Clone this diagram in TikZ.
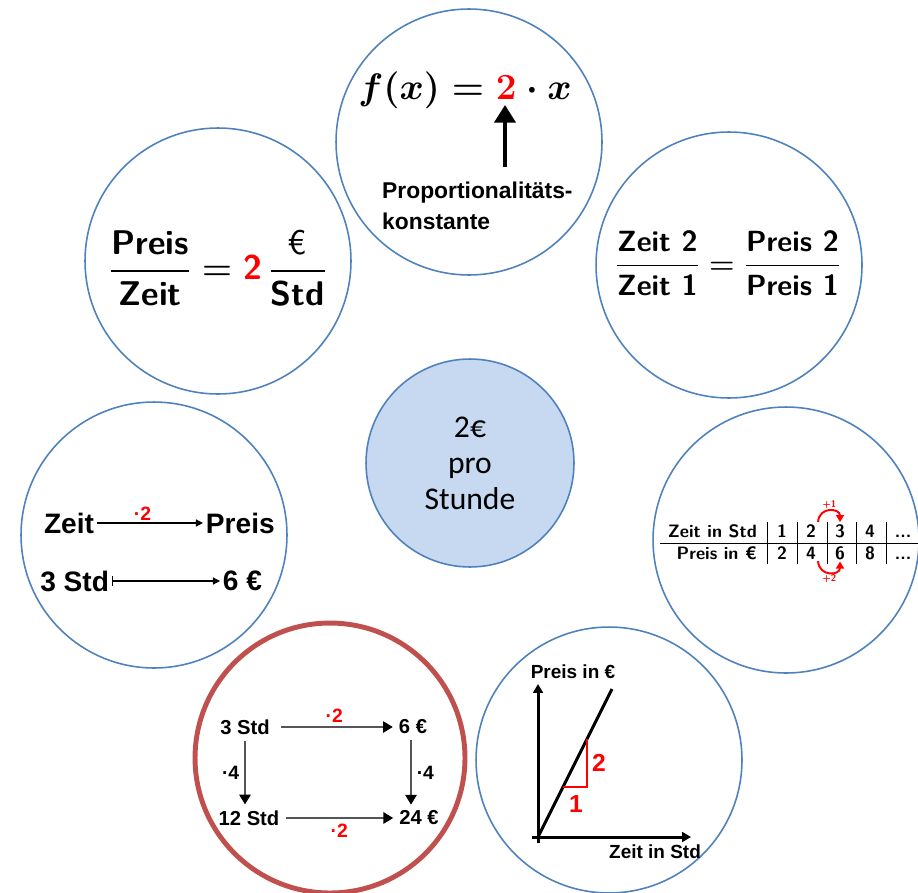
\RequirePackage{fix-cm}
\documentclass[tikz,border=0pt]{standalone}
\usepackage{amsmath}
\usepackage{fontspec}
\newfontfamily\arialfont{Liberation Sans}
\newfontfamily\calibrifont{Carlito}
\definecolor{ringblue}{RGB}{79,129,189}
\definecolor{ringred}{RGB}{192,80,77}
\definecolor{hubblue}{RGB}{198,217,240}
\definecolor{markred}{RGB}{255,0,0}
\definecolor{arrowgray}{RGB}{85,85,85}
\usetikzlibrary{arrows.meta,positioning,calc}
\newcommand{\sfbold}[1]{\textsf{\textbf{#1}}}

\begin{document}
\begin{tikzpicture}[x=0.02cm, y=-0.02cm,
  ring/.style={circle, draw=ringblue, line width=0.9pt, fill=white,
    minimum size=5.32cm, inner sep=0pt},
  hub/.style={circle, draw=ringblue, line width=0.9pt, fill=hubblue,
    minimum size=4.16cm, inner sep=0pt, align=center,
    font=\calibrifont\fontsize{18}{20.5}\selectfont},
  wordbig/.style={font=\arialfont\bfseries\fontsize{16}{19}\selectfont, inner sep=1.5pt},
  wordmid/.style={font=\arialfont\bfseries\fontsize{11.5}{14}\selectfont},
  wordaxis/.style={font=\arialfont\bfseries\fontsize{10.8}{13}\selectfont, inner sep=1pt},
  factor/.style={font=\arialfont\bfseries\fontsize{11}{13}\selectfont, text=markred, inner sep=1pt},
  cell/.style={font=\sffamily\bfseries\fontsize{10.2}{12}\selectfont, inner sep=1pt, anchor=base},
  hoplabel/.style={font=\sffamily\bfseries\fontsize{5.5}{6}\selectfont, text=markred, inner sep=0.5pt},
  mapsto/.style={-{Triangle[length=4pt,width=4pt]}, line width=0.7pt},
  chain/.style={-{Triangle[length=5.5pt,width=6.5pt,black]}, line width=0.6pt, draw=arrowgray},
  lift/.style={-{Triangle[length=10pt,width=12pt]}, line width=2pt},
  axis/.style={-{Triangle[length=5pt,width=5.5pt]}, line width=1.7pt},
  hop/.style={-{Triangle[length=4pt,width=4.5pt]}, line width=1.1pt, draw=markred}
]
\useasboundingbox (0,0) rectangle (918,892);

% the seven circles
\node[ring] (ctop)   at (469,142) {};
\node[ring] (cnw)    at (218,261) {};
\node[ring] (cne)    at (729,265) {};
\node[ring] (cwest)  at (154,535) {};
\node[ring] (ceast)  at (786,540) {};
\node[ring, draw=ringred, line width=2.8pt, minimum size=5.4cm] (csw) at (330,758) {};
\node[ring] (cse)    at (609,760) {};
\node[hub]  (hub)    at (470,463) {2€\\pro\\Stunde};

% top: function term
\node[font=\fontsize{21}{25}\selectfont\boldmath] (fx) at (465,90)
  {$f(x) = \textcolor{markred}{2}\cdot x$};
\node[font=\arialfont\bfseries\fontsize{13}{18}\selectfont, align=left, anchor=west] (pk)
  at (376,206) {Proportionalitäts-\\konstante};
\coordinate (ktail) at (505,167);
\coordinate (ktip)  at (505,105);
\draw[lift] (ktail) -- (ktip);

% upper left: quotient
\node[font=\fontsize{19.5}{23}\selectfont\boldmath] (quot) at (218,268)
  {$\dfrac{\sfbold{Preis}}{\sfbold{Zeit}} = \textcolor{markred}{\sfbold{2}}\,\dfrac{\textsf{€}}{\sfbold{Std}}$};

% upper right: ratios
\node[font=\fontsize{16.6}{20}\selectfont\boldmath] (ratio) at (728,263)
  {$\dfrac{\sfbold{Zeit 2}}{\sfbold{Zeit 1}} = \dfrac{\sfbold{Preis 2}}{\sfbold{Preis 1}}$};

% left: assignment
\node[wordbig, anchor=east] (zeit)  at (97,523)  {Zeit};
\node[wordbig, anchor=west] (preis) at (203,523) {Preis};
\draw[mapsto] (zeit) -- node[factor, pos=0.43, above=0pt] {·2} (preis);
\node[wordbig, anchor=east] (std3)  at (112,581) {3 Std};
\node[wordbig, anchor=west] (eur6)  at (220,581) {6 €};
\draw[mapsto, {Bar[width=6pt]}-{Triangle[length=4pt,width=4pt]}] (std3) -- (eur6);

% right: table
\node[cell, anchor=base east] (hzeit)  at (759,537) {Zeit in Std};
\node[cell, anchor=base east] (hpreis) at (759,559) {Preis in €};
\node[cell] (t1) at (782,537) {1};
\node[cell] (t2) at (811,537) {2};
\node[cell] (t3) at (840,537) {3};
\node[cell] (t4) at (870,537) {4};
\node[cell] (t5) at (903,537) {...};
\node[cell] (b2) at (782,559) {2};
\node[cell] (b4) at (811,559) {4};
\node[cell] (b6) at (840,559) {6};
\node[cell] (b8) at (870,559) {8};
\node[cell] (b9) at (903,559) {...};
\draw[line width=0.5pt] (660,543) -- (918,543);
\draw[line width=0.4pt] (767,522) -- (767,564)
                        (797,522) -- (797,564)
                        (827,522) -- (827,564)
                        (856,522) -- (856,564)
                        (886,522) -- (886,564);
\draw[hop] (t2.north east) .. controls +(1,-16) and +(0,-14) .. (t3.north)
  node[hoplabel, pos=0.5, above] {+1};
\draw[hop] (b4.south east) .. controls +(1,16) and +(0,14) .. (b6.south)
  node[hoplabel, pos=0.5, below] {+2};

% lower left: scheme
\node[wordmid] (s3)  at (245,727) {3 Std};
\node[wordmid] (e6)  at (413,727) {6 €};
\node[wordmid] (s12) at (249,818) {12 Std};
\node[wordmid] (e24) at (419,818) {24 €};
\draw[chain, shorten <=3pt] (s3) -- node[factor, above=1pt] {·2} (e6);
\draw[chain] (s12) -- node[factor, below=2pt] {·2} (e24);
\draw[chain] (s3.south) -- node[factor, left=2pt, text=black] {·4} (s3.south |- s12.north);
\draw[chain] (e6.south -| 411,0) -- node[factor, right=2pt, text=black] {·4} (411,0 |- e24.north);

% lower right: graph
\coordinate (O)  at (538,837);
\coordinate (yt) at (538,684);
\coordinate (xt) at (691,837);
\draw[axis] (538,843) -- (yt);
\draw[axis] (532,837) -- (xt);
\draw[line width=1.7pt] (O) -- (612,689);
\draw[markred, line width=1.5pt] (563,787) -- (587,787) -- (587,739);
\node[wordaxis] (ylab) at (573,672) {Preis in €};
\node[wordaxis] (xlab) at (655,852) {Zeit in Std};
\node[font=\arialfont\bfseries\fontsize{14}{16}\selectfont, text=markred] (dy) at (599,763) {2};
\node[font=\arialfont\bfseries\fontsize{14}{16}\selectfont, text=markred] (dx) at (576,804) {1};
\end{tikzpicture}
\end{document}
